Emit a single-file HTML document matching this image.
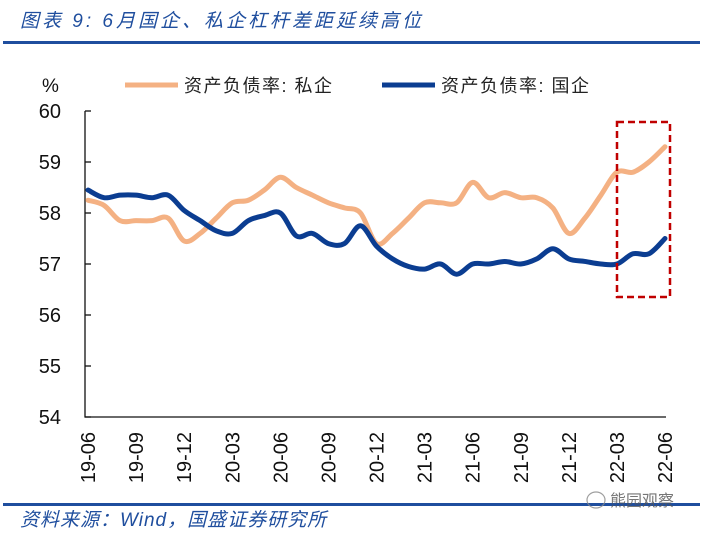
<!DOCTYPE html>
<html><head><meta charset="utf-8"><style>
body{margin:0;background:#fff;width:703px;height:535px;overflow:hidden;font-family:"Liberation Sans","Noto Sans CJK SC",sans-serif}
svg{display:block}
</style></head><body>
<svg width="703" height="535" xmlns="http://www.w3.org/2000/svg">
<text x="20" y="27" font-size="19" letter-spacing="3" fill="#1f4e9e" font-style="italic" font-family="'Liberation Sans','Noto Sans CJK SC',sans-serif">图表 9:  6月国企、私企杠杆差距延续高位</text>
<rect x="3" y="41" width="697" height="3" fill="#1f4e9e"/>
<text x="42" y="92" font-size="19" fill="#111">%</text>
<line x1="125" y1="85" x2="178" y2="85" stroke="#f4b183" stroke-width="5"/>
<text x="184" y="92" font-size="18" letter-spacing="1.5" fill="#222">资产负债率: 私企</text>
<line x1="382" y1="85" x2="435" y2="85" stroke="#0b3d91" stroke-width="5"/>
<text x="441" y="92" font-size="18" letter-spacing="1.5" fill="#222">资产负债率: 国企</text>
<g id="axes"></g>
<g id="series"></g>
<rect x="617" y="122" width="53" height="175" fill="none" stroke="#c00000" stroke-width="2.5" stroke-dasharray="7,4"/>
<rect x="3" y="503" width="697" height="3" fill="#1f4e9e"/>
<text x="20" y="526" font-size="19" letter-spacing="1" fill="#1f4e9e" font-style="italic">资料来源：Wind，国盛证券研究所</text>
<g opacity="0.8">
<ellipse cx="596" cy="500" rx="9" ry="8" fill="none" stroke="#888" stroke-width="1.2"/>
<text x="610" y="506" font-size="16" fill="#555">熊园观察</text>
</g>
</svg>
<script>
const categories=["19-06","19-07","19-08","19-09","19-10","19-11","19-12","20-01","20-02","20-03","20-04","20-05","20-06","20-07","20-08","20-09","20-10","20-11","20-12","21-01","21-02","21-03","21-04","21-05","21-06","21-07","21-08","21-09","21-10","21-11","21-12","22-01","22-02","22-03","22-04","22-05","22-06"];
const privateVals=[58.25,58.15,57.85,57.85,57.85,57.9,57.45,57.6,57.9,58.2,58.25,58.45,58.7,58.5,58.35,58.2,58.1,58.0,57.4,57.6,57.9,58.2,58.2,58.2,58.6,58.3,58.4,58.3,58.3,58.1,57.6,57.9,58.35,58.8,58.8,59.0,59.3];
const stateVals=[58.45,58.3,58.35,58.35,58.3,58.35,58.05,57.85,57.65,57.6,57.85,57.95,58.0,57.55,57.6,57.4,57.4,57.75,57.35,57.1,56.95,56.9,57.0,56.8,57.0,57.0,57.05,57.0,57.1,57.3,57.1,57.05,57.0,57.0,57.2,57.2,57.5];
const yTicks=[54,55,56,57,58,59,60];
const xTickEvery=3;
const NS="http://www.w3.org/2000/svg";
const X0=88,X1=665,Y0=417,Y1=111,YMIN=54,YMAX=60;
function xs(i){return X0+(X1-X0)*i/(categories.length-1);}
function ys(v){return Y0-(v-YMIN)/(YMAX-YMIN)*(Y0-Y1);}
function mk(t,a){const e=document.createElementNS(NS,t);for(const k in a)e.setAttribute(k,a[k]);return e;}
const axes=document.getElementById('axes');
let ax=mk('path',{d:`M85 ${Y1} V${Y0} H666`,stroke:'#111','stroke-width':1.3,fill:'none'});


axes.appendChild(ax);
yTicks.forEach(v=>{
 const tk=mk('line',{x1:85,x2:91,y1:ys(v),y2:ys(v),stroke:'#111','stroke-width':1.3});
 
 
 axes.appendChild(tk);
 const t=mk('text',{x:61,y:ys(v)+7,'font-size':20,'text-anchor':'end',fill:'#111'});
 t.textContent=v;
 
 
 axes.appendChild(t);
});
categories.forEach((c,i)=>{
 if(i%xTickEvery)return;
 const x=xs(i);
 const t=mk('text',{x:0,y:0,'font-size':20,'text-anchor':'end',fill:'#111',transform:`translate(${x+7},432) rotate(-90)`});
 t.textContent=c;
 
 
 axes.appendChild(t);
});
function smooth(vals){
 const p=vals.map((v,i)=>[xs(i),ys(v)]);
 let d=`M${p[0][0]} ${p[0][1]}`;
 for(let i=0;i<p.length-1;i++){
  const a=p[Math.max(0,i-1)],b=p[i],c=p[i+1],e=p[Math.min(p.length-1,i+2)];
  const c1=[b[0]+(c[0]-a[0])/6,b[1]+(c[1]-a[1])/6],c2=[c[0]-(e[0]-b[0])/6,c[1]-(e[1]-b[1])/6];
  d+=` C${c1[0]} ${c1[1]} ${c2[0]} ${c2[1]} ${c[0]} ${c[1]}`;
 }
 return d;
}
const ser=document.getElementById('series');
const lp=mk('path',{d:smooth(privateVals),stroke:'#f4b183','stroke-width':5,fill:'none','stroke-linejoin':'round','stroke-linecap':'round'});


ser.appendChild(lp);
const ls=mk('path',{d:smooth(stateVals),stroke:'#0b3d91','stroke-width':5,fill:'none','stroke-linejoin':'round','stroke-linecap':'round'});


ser.appendChild(ls);
</script>
</body></html>
